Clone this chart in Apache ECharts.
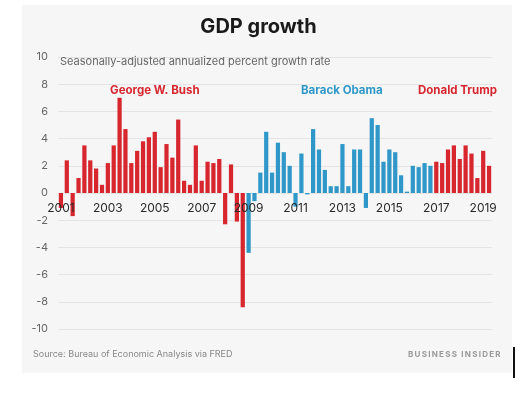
<!DOCTYPE html>
<html>
<head>
<meta charset="utf-8">
<script src="https://cdn.jsdelivr.net/npm/echarts@6/dist/echarts.min.js"></script>
<style>
html,body{margin:0;padding:0;background:#fff;}
#c{width:517px;height:394px;}
</style>
</head>
<body>
<div id="c"></div>
<script>
// Quarterly GDP growth, seasonally-adjusted annualized %, 2001 Q1 - 2019 Q2
const years = [];
for (let y = 2001; y <= 2019; y++) years.push(y);
const quarters = ['Q1','Q2','Q3','Q4'];
const growth = [
  -1.1, 2.4, -1.7, 1.1,   // 2001
  3.5, 2.4, 1.8, 0.6,     // 2002
  2.2, 3.5, 7.0, 4.7,     // 2003
  2.2, 3.1, 3.8, 4.1,     // 2004
  4.5, 1.9, 3.6, 2.6,     // 2005
  5.4, 0.9, 0.6, 3.5,     // 2006
  0.9, 2.3, 2.2, 2.5,     // 2007
  -2.3, 2.1, -2.1, -8.4,  // 2008
  -4.4, -0.6, 1.5, 4.5,   // 2009
  1.5, 3.7, 3.0, 2.0,     // 2010
  -1.0, 2.9, -0.1, 4.7,   // 2011
  3.2, 1.7, 0.5, 0.5,     // 2012
  3.6, 0.5, 3.2, 3.2,     // 2013
  -1.1, 5.5, 5.0, 2.3,    // 2014
  3.2, 3.0, 1.3, 0.1,     // 2015
  2.0, 1.9, 2.2, 2.0,     // 2016
  2.3, 2.2, 3.2, 3.5,     // 2017
  2.5, 3.5, 2.9, 1.1,     // 2018
  3.1, 2.0                // 2019
];
const categories = [];
years.forEach(y => quarters.forEach(q => categories.push(y + ' ' + q)));
categories.length = growth.length;
// administration of each quarter (by start category)
const presidents = ['George W. Bush', 'Barack Obama', 'Donald Trump'];
const termStart = ['2001 Q1', '2009 Q1', '2017 Q1'];
const yTicks = [-10, -8, -6, -4, -2, 0, 2, 4, 6, 8, 10];

const RED = '#d7262e', BLUE = '#2f98c9';
const presColors = [RED, BLUE, RED];
function presIndex(i) {
  let p = 0;
  termStart.forEach((s, k) => { if (i >= categories.indexOf(s)) p = k; });
  return p;
}

const GRID = {left: 58, right: 25, top: 57, bottom: 65};
const plotH = 394 - GRID.top - GRID.bottom;
const yMin = yTicks[0], yMax = yTicks[yTicks.length - 1];
// put the category labels on the zero line
const zeroOffset = -plotH * (0 - yMin) / (yMax - yMin);

const chart = echarts.init(document.getElementById('c'), null, {renderer: 'canvas'});
const FONT = 'Inter, "Open Sans", sans-serif';
chart.setOption({
  backgroundColor: '#ffffff',
  animation: false,
  grid: Object.assign({containLabel: false}, GRID),
  xAxis: {
    type: 'category',
    data: categories,
    z: 10,
    offset: zeroOffset,
    axisLine: {show: false, onZero: false},
    axisTick: {show: false},
    axisLabel: {
      interval: (i) => i % 8 === 0,
      formatter: (v) => v.slice(0, 4),
      color: '#2a2a2a', fontSize: 12, fontFamily: FONT, margin: 9
    },
    splitLine: {show: false}
  },
  yAxis: {
    type: 'value',
    min: yMin, max: yMax, interval: 2,
    axisLine: {show: false}, axisTick: {show: false},
    axisLabel: {color: '#666', fontSize: 11, fontFamily: FONT, margin: 10},
    splitLine: {lineStyle: {color: '#e4e4e4', width: 1}}
  },
  series: [{
    type: 'bar',
    data: growth,
    barCategoryGap: '28%',
    itemStyle: {color: (p) => presColors[presIndex(p.dataIndex)]}
  }],
  graphic: [
    {type: 'rect', z: -10, shape: {x: 22, y: 5, width: 490, height: 368}, style: {fill: '#f6f6f6'}},
    {type: 'rect', z: 10, shape: {x: 513, y: 347, width: 2, height: 31}, style: {fill: '#111'}},
    {type: 'text', left: 'center', top: 17, style: {text: 'GDP growth', font: 'bold 20px ' + FONT, fill: '#1a1a1a'}},
    {type: 'text', x: 60, y: 56, z: 10, style: {text: 'Seasonally-adjusted annualized percent growth rate', font: '11px ' + FONT, fill: '#666'}},
    {type: 'text', x: 110, y: 85, z: 10, style: {text: presidents[0], font: 'bold 11.5px ' + FONT, fill: RED}},
    {type: 'text', x: 301, y: 85, z: 10, style: {text: presidents[1], font: 'bold 11.5px ' + FONT, fill: BLUE}},
    {type: 'text', x: 418, y: 85, z: 10, style: {text: presidents[2], font: 'bold 11.5px ' + FONT, fill: RED}},
    {type: 'text', x: 33, y: 350, style: {text: 'Source: Bureau of Economic Analysis via FRED', font: '9px ' + FONT, fill: '#888'}},
    {type: 'text', x: 408, y: 351, style: {text: 'BUSINESS INSIDER'.split('').join('\u2009'), font: 'bold 8px ' + FONT, fill: '#999'}}
  ]
});
</script>
</body>
</html>
